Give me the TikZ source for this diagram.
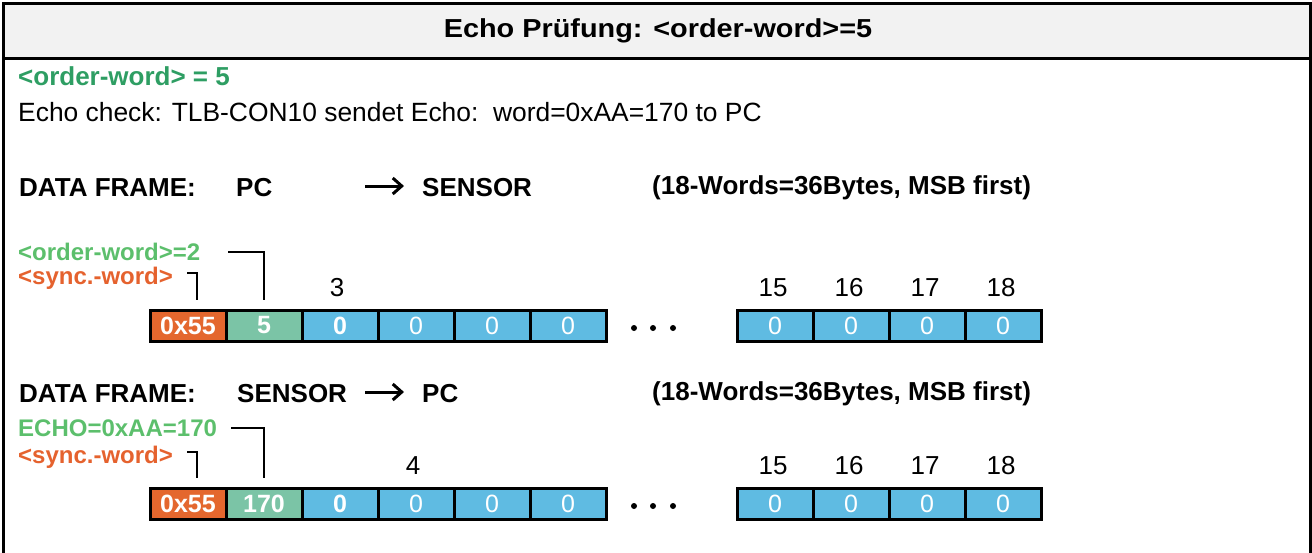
\documentclass[tikz,border=0pt]{standalone}
\usepackage{fontspec}
\setmainfont{Liberation Sans}
\usetikzlibrary{arrows.meta}
\definecolor{hdrgray}{HTML}{F2F2F2}
\definecolor{darkgreen}{HTML}{2E9E63}
\definecolor{lightgreen}{HTML}{5CBF6C}
\definecolor{syncorange}{HTML}{E5622E}
\definecolor{cellorange}{HTML}{E4672E}
\definecolor{cellgreen}{HTML}{7BC4A6}
\definecolor{cellblue}{HTML}{5FBBE2}
\newcommand{\fs}[1]{\fontsize{#1}{#1}\selectfont}
\tikzset{
  x=1pt, y=-1pt,
  cell/.style={draw=black, line width=3pt, outer sep=0pt, minimum width=76pt, minimum height=31pt, inner sep=0pt, text=white, font=\fs{25}},
  bcell/.style={cell, font=\fs{25}\bfseries},
  txt/.style={anchor=west, inner sep=0pt},
  btxt/.style={txt, font=\fs{26}\bfseries},
  lbl/.style={txt, font=\fs{24}\bfseries},
  num/.style={inner sep=0pt, font=\fs{26}},
  leader/.style={draw=black, line width=1.3pt},
  dot/.style={circle, fill=black, inner sep=0pt, minimum size=6pt},
  arr/.style={line width=3pt, -{Straight Barb[length=9pt,width=16pt,line width=3pt]}},
}
\begin{document}
\begin{tikzpicture}
\useasboundingbox (0,0) rectangle (1312,552);
% frame
\draw[line width=3pt] (3,600) -- (3,3) -- (1310,3) -- (1310,600);
\node[draw=black, line width=3pt, fill=hdrgray, minimum width=1307pt, minimum height=55pt, anchor=north west, inner sep=0pt, outer sep=0pt] (hdr) at (3,3) {};
\node[font=\fs{26}\bfseries] (title) at (658,31) {\scalebox{1.11}[1]{Echo Prüfung: <order-word>=5}};
% intro
\node[txt, font=\fs{26}\bfseries, text=darkgreen] (ow) at (18,76) {<order-word> = 5};
\node[txt, font=\fs{26.4}] (echo) at (18,112) {Echo check: TLB-CON10 sendet Echo:\ \ word=0xAA=170 to PC};
% frame 1 header
\node[btxt] (df1) at (19,188) {DATA FRAME:};
\node[btxt] (pc1) at (236,188) {PC};
\coordinate (a1s) at (365,186);
\coordinate (a1e) at (404,186);
\draw[arr] (a1s) -- (a1e);
\node[btxt] (sen1) at (422,188) {SENSOR};
\node[btxt] (info1) at (652,188) {(18-Words=36Bytes, MSB first)};
% frame 1 labels
\node[lbl, text=lightgreen] (lo1) at (18,252) {<order-word>=2};
\node[lbl, text=syncorange] (ls1) at (18,278) {<sync.-word>};
% frame 1 cells
\node[bcell, fill=cellorange] (r1c1) at (188,325.5) {0x55};
\node[bcell, fill=cellgreen, anchor=west] (r1c2) at (r1c1.east) {5};
\node[bcell, fill=cellblue, anchor=west] (r1c3) at (r1c2.east) {0};
\node[cell, fill=cellblue, anchor=west] (r1c4) at (r1c3.east) {0};
\node[cell, fill=cellblue, anchor=west] (r1c5) at (r1c4.east) {0};
\node[cell, fill=cellblue, anchor=west] (r1c6) at (r1c5.east) {0};
\node[dot] (r1d1) at (634,328) {};
\node[dot] (r1d2) at (653,328) {};
\node[dot] (r1d3) at (673,328) {};
\node[cell, fill=cellblue] (r1c15) at (775,325.5) {0};
\node[cell, fill=cellblue, anchor=west] (r1c16) at (r1c15.east) {0};
\node[cell, fill=cellblue, anchor=west] (r1c17) at (r1c16.east) {0};
\node[cell, fill=cellblue, anchor=west] (r1c18) at (r1c17.east) {0};
\node[num] (n1a) at ([xshift=-3pt,yshift=22pt]r1c3.north) {3};
\node[num] (n1b) at ([xshift=-2pt,yshift=22pt]r1c15.north) {15};
\node[num] (n1c) at ([xshift=-2pt,yshift=22pt]r1c16.north) {16};
\node[num] (n1d) at ([xshift=-2pt,yshift=22pt]r1c17.north) {17};
\node[num] (n1e) at ([xshift=-2pt,yshift=22pt]r1c18.north) {18};
\coordinate (t1o) at ([yshift=10pt]r1c2.north);
\coordinate (t1s) at ([xshift=9pt,yshift=10pt]r1c1.north);
\draw[leader] ([xshift=28pt]lo1.east) -| (t1o);
\draw[leader] ([xshift=14pt,yshift=5pt]ls1.east) -| (t1s);
% frame 2 header
\node[btxt] (df2) at (19,394) {DATA FRAME:};
\node[btxt] (sen2) at (237,394) {SENSOR};
\coordinate (a2s) at (365,392);
\coordinate (a2e) at (404,392);
\draw[arr] (a2s) -- (a2e);
\node[btxt] (pc2) at (422,394) {PC};
\node[btxt] (info2) at (652,394) {(18-Words=36Bytes, MSB first)};
% frame 2 labels
\node[lbl, text=lightgreen] (lo2) at (18,428) {ECHO=0xAA=170};
\node[lbl, text=syncorange] (ls2) at (18,457) {<sync.-word>};
% frame 2 cells
\node[bcell, fill=cellorange] (r2c1) at (188,503.5) {0x55};
\node[bcell, fill=cellgreen, anchor=west] (r2c2) at (r2c1.east) {170};
\node[bcell, fill=cellblue, anchor=west] (r2c3) at (r2c2.east) {0};
\node[cell, fill=cellblue, anchor=west] (r2c4) at (r2c3.east) {0};
\node[cell, fill=cellblue, anchor=west] (r2c5) at (r2c4.east) {0};
\node[cell, fill=cellblue, anchor=west] (r2c6) at (r2c5.east) {0};
\node[dot] (r2d1) at (634,506) {};
\node[dot] (r2d2) at (653,506) {};
\node[dot] (r2d3) at (673,506) {};
\node[cell, fill=cellblue] (r2c15) at (775,503.5) {0};
\node[cell, fill=cellblue, anchor=west] (r2c16) at (r2c15.east) {0};
\node[cell, fill=cellblue, anchor=west] (r2c17) at (r2c16.east) {0};
\node[cell, fill=cellblue, anchor=west] (r2c18) at (r2c17.east) {0};
\node[num] (n2a) at ([xshift=-3pt,yshift=22pt]r2c4.north) {4};
\node[num] (n2b) at ([xshift=-2pt,yshift=22pt]r2c15.north) {15};
\node[num] (n2c) at ([xshift=-2pt,yshift=22pt]r2c16.north) {16};
\node[num] (n2d) at ([xshift=-2pt,yshift=22pt]r2c17.north) {17};
\node[num] (n2e) at ([xshift=-2pt,yshift=22pt]r2c18.north) {18};
\coordinate (t2o) at ([yshift=10pt]r2c2.north);
\coordinate (t2s) at ([xshift=9pt,yshift=10pt]r2c1.north);
\draw[leader] ([xshift=14pt]lo2.east) -| (t2o);
\draw[leader] ([xshift=14pt,yshift=5pt]ls2.east) -| (t2s);
\end{tikzpicture}
\end{document}
